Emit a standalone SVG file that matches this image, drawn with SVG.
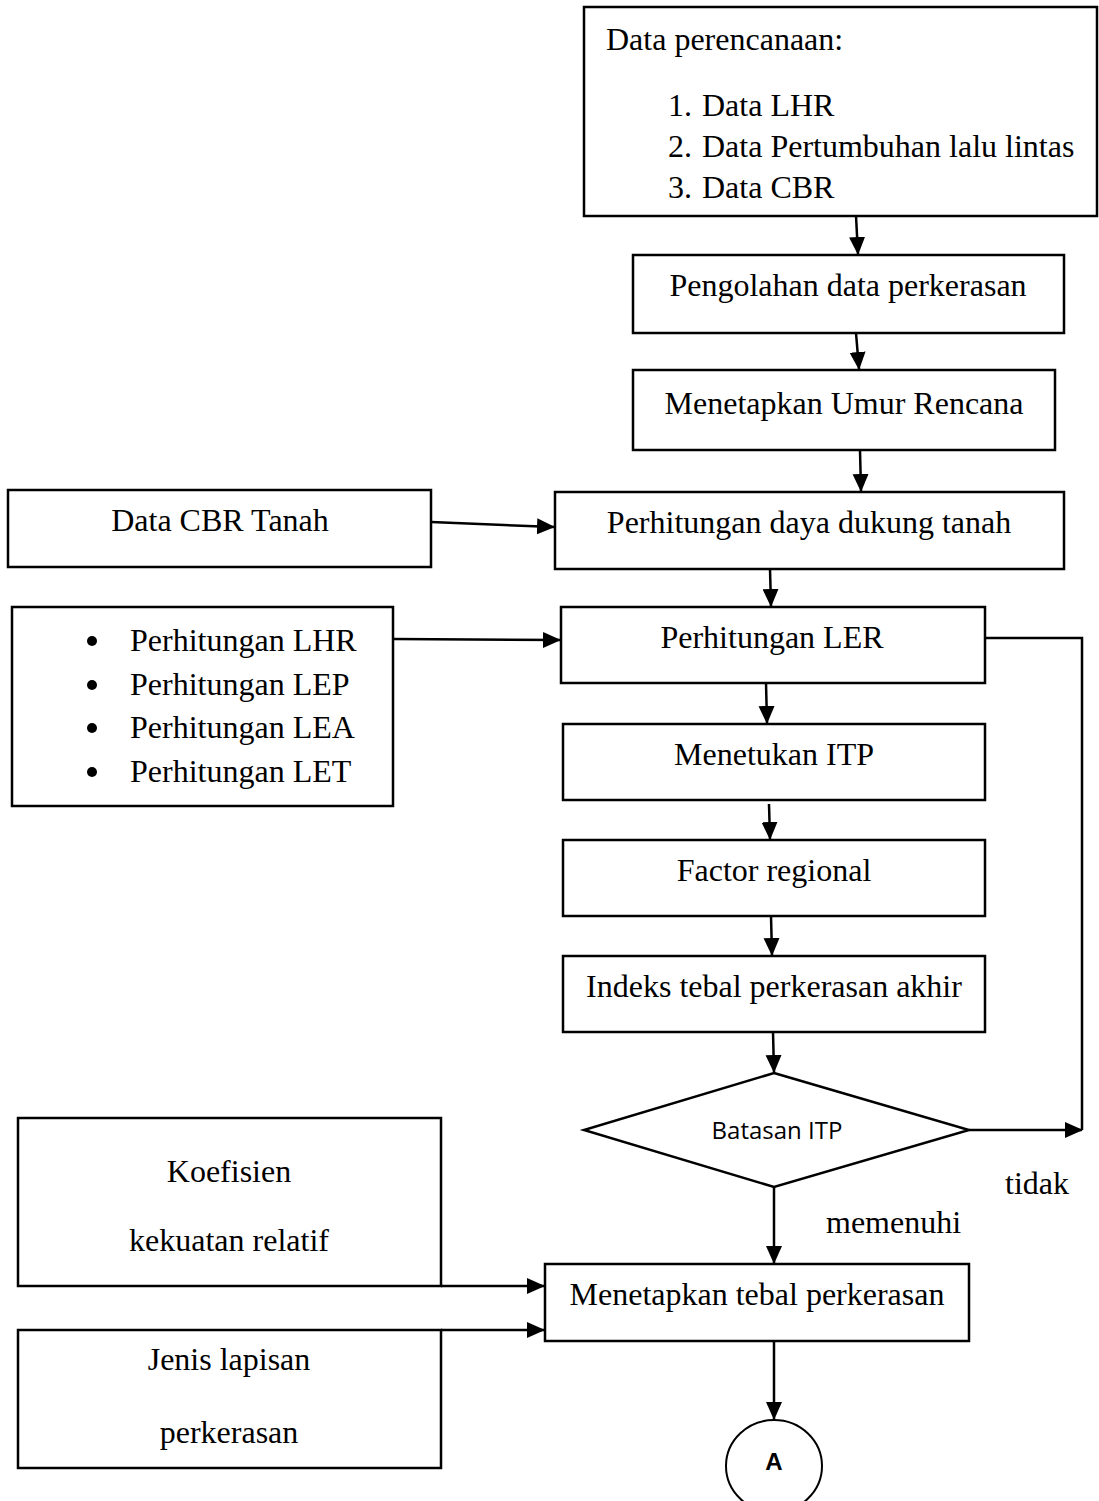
<svg xmlns="http://www.w3.org/2000/svg" width="1099" height="1501" viewBox="0 0 1099 1501">
<style>
.box{fill:#fff;stroke:#000;stroke-width:2.5}
.t{font-family:"Liberation Serif","Times New Roman",serif;font-size:32px;fill:#000}
.c{text-anchor:middle}
.s{font-family:"Open Sans","Liberation Sans",sans-serif;font-size:24px;fill:#000;text-anchor:middle}
.ln{fill:none;stroke:#000;stroke-width:2.5}
</style>
<defs>
<marker id="ah2" markerWidth="18" markerHeight="18" refX="17" refY="9" orient="auto" markerUnits="userSpaceOnUse" viewBox="0 0 18 18">
<path d="M0,1 L18,9 L0,17 Z" fill="#000"/>
</marker>
</defs>
<rect width="1099" height="1501" fill="#fff"/>

<g id="n-data">
<rect class="box" x="584" y="7" width="513" height="209"/>
<text class="t" x="606" y="50">Data perencanaan:</text>
<text class="t" x="668" y="116">1.</text><text class="t" x="702" y="116">Data LHR</text>
<text class="t" x="668" y="157">2.</text><text class="t" x="702" y="157">Data Pertumbuhan lalu lintas</text>
<text class="t" x="668" y="198">3.</text><text class="t" x="702" y="198">Data CBR</text>
</g>
<g id="n-pengolahan">
<rect class="box" x="633" y="255" width="431" height="78"/>
<text class="t c" x="848" y="296">Pengolahan data perkerasan</text>
</g>
<g id="n-umur">
<rect class="box" x="633" y="370" width="422" height="80"/>
<text class="t c" x="844" y="414">Menetapkan Umur Rencana</text>
</g>
<g id="n-cbrtanah">
<rect class="box" x="8" y="490" width="423" height="77"/>
<text class="t c" x="220" y="531">Data CBR Tanah</text>
</g>
<g id="n-dayadukung">
<rect class="box" x="555" y="492" width="509" height="77"/>
<text class="t c" x="809" y="533">Perhitungan daya dukung tanah</text>
</g>
<g id="n-list">
<rect class="box" x="12" y="607" width="381" height="199"/>
<circle cx="92" cy="641" r="5"/><text class="t" x="130" y="651">Perhitungan LHR</text>
<circle cx="92" cy="685" r="5"/><text class="t" x="130" y="695">Perhitungan LEP</text>
<circle cx="92" cy="728" r="5"/><text class="t" x="130" y="738">Perhitungan LEA</text>
<circle cx="92" cy="772" r="5"/><text class="t" x="130" y="782">Perhitungan LET</text>
</g>
<g id="n-ler">
<rect class="box" x="561" y="607" width="424" height="76"/>
<text class="t c" x="772" y="648">Perhitungan LER</text>
</g>
<g id="n-itp">
<rect class="box" x="563" y="724" width="422" height="76"/>
<text class="t c" x="774" y="765">Menetukan ITP</text>
</g>
<g id="n-factor">
<rect class="box" x="563" y="840" width="422" height="76"/>
<text class="t c" x="774" y="881">Factor regional</text>
</g>
<g id="n-indeks">
<rect class="box" x="563" y="956" width="422" height="76"/>
<text class="t c" x="774" y="997">Indeks tebal perkerasan akhir</text>
</g>
<g id="n-batasan">
<polygon class="box" points="774,1073 969,1130 774,1187 584,1130"/>
<text class="s" x="777" y="1139">Batasan ITP</text>
</g>
<g id="n-koef">
<rect class="box" x="18" y="1118" width="423" height="168"/>
<text class="t c" x="229" y="1182">Koefisien</text>
<text class="t c" x="229" y="1251">kekuatan relatif</text>
</g>
<g id="n-jenis">
<rect class="box" x="18" y="1330" width="423" height="138"/>
<text class="t c" x="229" y="1370">Jenis lapisan</text>
<text class="t c" x="229" y="1443">perkerasan</text>
</g>
<g id="n-tebal">
<rect class="box" x="545" y="1264" width="424" height="77"/>
<text class="t c" x="757" y="1305">Menetapkan tebal perkerasan</text>
</g>
<g id="n-a">
<ellipse cx="774" cy="1466" rx="48" ry="46" fill="#fff" stroke="#000" stroke-width="2"/>
<text x="774" y="1470" text-anchor="middle" font-family="'Liberation Sans',Arial,sans-serif" font-weight="bold" font-size="24">A</text>
</g>

<g id="connectors">
<line class="ln" x1="856" y1="216" x2="858" y2="254" marker-end="url(#ah2)"/>
<line class="ln" x1="856" y1="333" x2="859" y2="369" marker-end="url(#ah2)"/>
<line class="ln" x1="860" y1="450" x2="861" y2="491" marker-end="url(#ah2)"/>
<line class="ln" x1="431" y1="522" x2="554" y2="527" marker-end="url(#ah2)"/>
<line class="ln" x1="770" y1="569" x2="771" y2="606" marker-end="url(#ah2)"/>
<line class="ln" x1="393" y1="639" x2="560" y2="640" marker-end="url(#ah2)"/>
<polyline class="ln" points="985,638 1082,638 1082,1130"/>
<line class="ln" x1="766" y1="683" x2="767" y2="723" marker-end="url(#ah2)"/>
<line class="ln" x1="769" y1="804" x2="770" y2="839" marker-end="url(#ah2)"/>
<line class="ln" x1="771" y1="916" x2="772" y2="955" marker-end="url(#ah2)"/>
<line class="ln" x1="773" y1="1032" x2="774" y2="1072" marker-end="url(#ah2)"/>
<line class="ln" x1="969" y1="1130" x2="1082" y2="1130" marker-end="url(#ah2)"/>
<line class="ln" x1="774" y1="1187" x2="774" y2="1263" marker-end="url(#ah2)"/>
<line class="ln" x1="441" y1="1286" x2="544" y2="1286" marker-end="url(#ah2)"/>
<line class="ln" x1="441" y1="1330" x2="544" y2="1330" marker-end="url(#ah2)"/>
<line class="ln" x1="774" y1="1341" x2="774" y2="1419" marker-end="url(#ah2)"/>
<text class="t" x="1005" y="1194">tidak</text>
<text class="t" x="826" y="1233">memenuhi</text>
</g>
</svg>
